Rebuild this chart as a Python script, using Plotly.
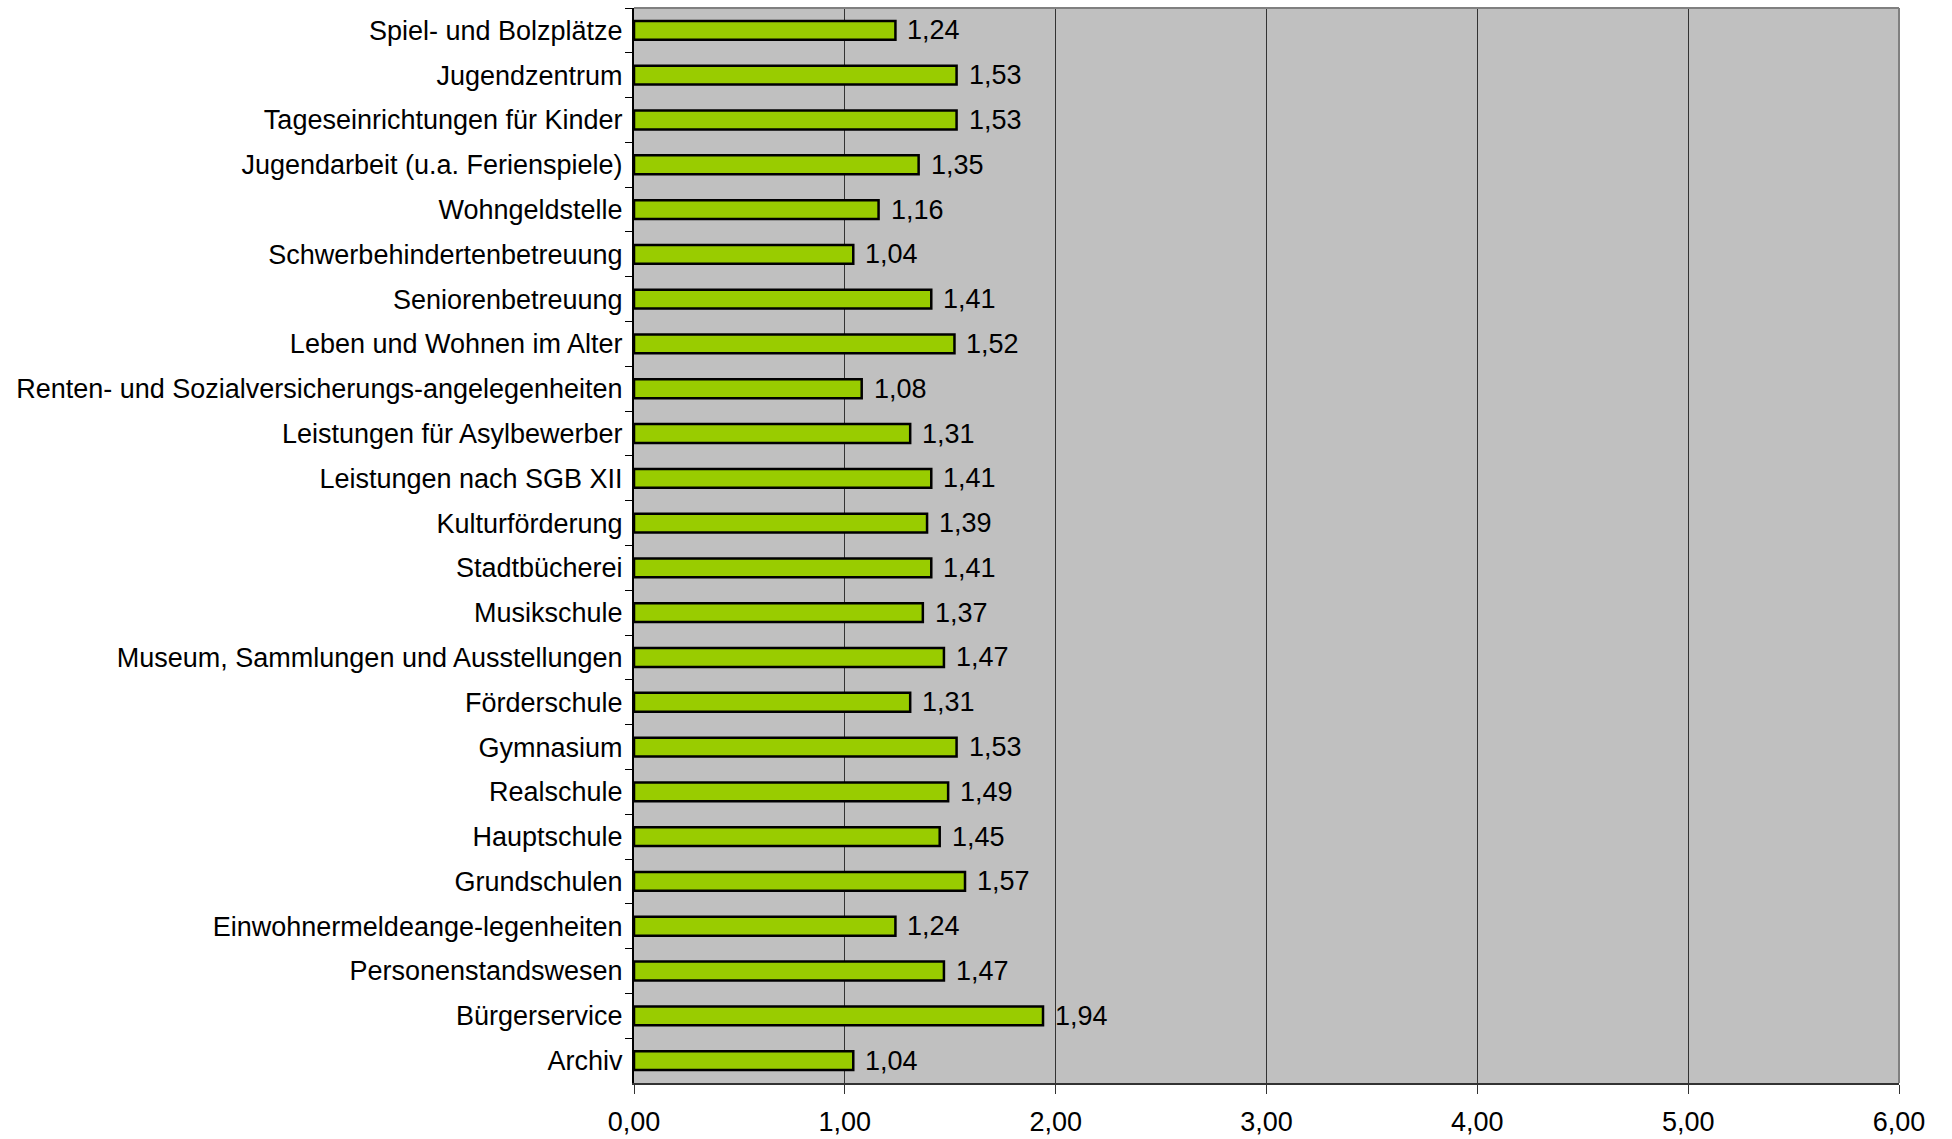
import plotly.graph_objects as go

categories = [
    "Spiel- und Bolzplätze",
    "Jugendzentrum",
    "Tageseinrichtungen für Kinder",
    "Jugendarbeit (u.a. Ferienspiele)",
    "Wohngeldstelle",
    "Schwerbehindertenbetreuung",
    "Seniorenbetreuung",
    "Leben und Wohnen im Alter",
    "Renten- und Sozialversicherungs-angelegenheiten",
    "Leistungen für Asylbewerber",
    "Leistungen nach SGB XII",
    "Kulturförderung",
    "Stadtbücherei",
    "Musikschule",
    "Museum, Sammlungen und Ausstellungen",
    "Förderschule",
    "Gymnasium",
    "Realschule",
    "Hauptschule",
    "Grundschulen",
    "Einwohnermeldeange-legenheiten",
    "Personenstandswesen",
    "Bürgerservice",
    "Archiv",
]
values = [1.24, 1.53, 1.53, 1.35, 1.16, 1.04, 1.41, 1.52, 1.08, 1.31, 1.41, 1.39,
          1.41, 1.37, 1.47, 1.31, 1.53, 1.49, 1.45, 1.57, 1.24, 1.47, 1.94, 1.04]
x_ticks = [0, 1, 2, 3, 4, 5, 6]

FONT = "Liberation Sans, Arial, sans-serif"
FS = 27

fig = go.Figure()
fig.add_trace(go.Bar(
    x=values, y=categories, orientation="h",
    marker=dict(color="#99CC00", line=dict(color="#000000", width=2.5)),
    hoverinfo="skip",
))

for c, v in zip(categories, values):
    fig.add_annotation(
        x=v, y=c, xref="x", yref="y",
        text=f"{v:.2f}".replace(".", ","),
        showarrow=False, xanchor="left", yanchor="middle", xshift=10,
        font=dict(family=FONT, size=FS, color="#000000"),
    )

# top and right border (gray)
fig.add_shape(type="line", xref="paper", yref="paper", x0=0, x1=1, y0=1, y1=1,
              line=dict(color="#808080", width=2))
fig.add_shape(type="line", xref="paper", yref="paper", x0=1, x1=1, y0=0, y1=1,
              line=dict(color="#808080", width=2))

fig.update_layout(
    width=1952, height=1139,
    margin=dict(l=634, r=53, t=8, b=56),
    paper_bgcolor="#FFFFFF",
    plot_bgcolor="#C0C0C0",
    separators=",.",
    bargap=0.58,
    showlegend=False,
    font=dict(family=FONT, size=FS, color="#000000"),
    xaxis=dict(
        range=[0, 6], tickvals=x_ticks, tickformat=".2f",
        showgrid=True, gridcolor="#333333", gridwidth=1,
        showline=True, linecolor="#333333", linewidth=2,
        ticks="outside", ticklen=9, tickcolor="#333333", tickwidth=1,
        ticklabelstandoff=5, automargin=False,
        zeroline=False, fixedrange=True,
        tickfont=dict(family=FONT, size=FS, color="#000000"),
    ),
    yaxis=dict(
        autorange="reversed", type="category",
        showgrid=False, showline=True, linecolor="#000000", linewidth=2,
        ticks="outside", ticklen=7, tickcolor="#000000", tickwidth=1,
        tickson="boundaries", ticklabelstandoff=4, automargin=False,
        tickfont=dict(family=FONT, size=FS, color="#000000"),
        fixedrange=True,
    ),
)

fig.write_html("out.html", config={"displayModeBar": False},
               post_script="document.body.style.margin='0';")
